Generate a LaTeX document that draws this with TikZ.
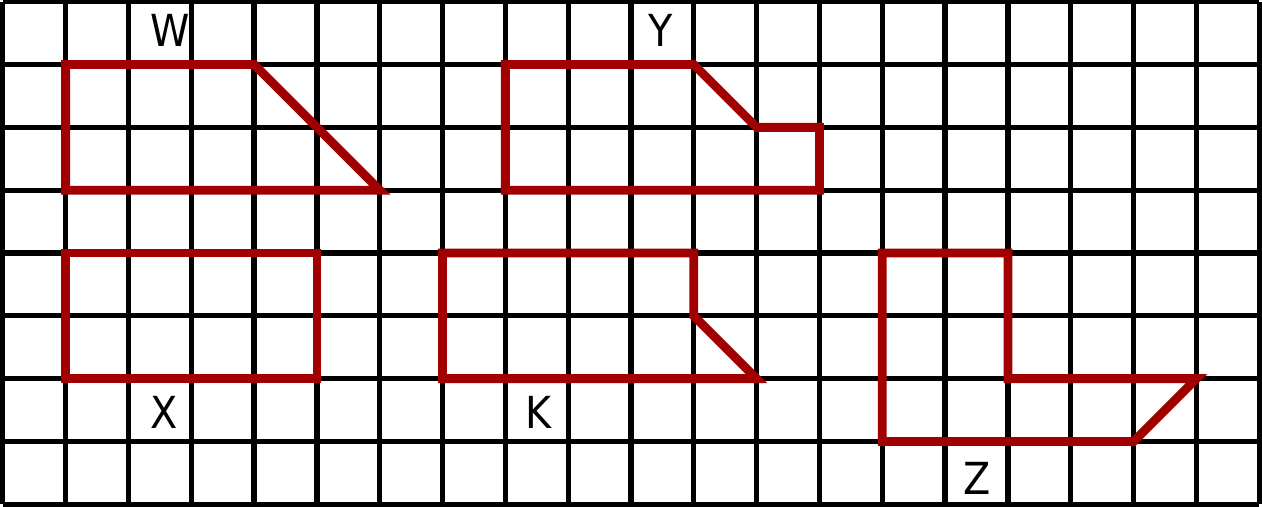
\documentclass[tikz,border=0pt]{standalone}
\usepackage{fontspec}
\setmainfont{DejaVu Sans Condensed}
\definecolor{darkred}{RGB}{160,0,0}
\begin{document}
\begin{tikzpicture}
    % Stili
    \tikzstyle{gridline}=[black, line width=2.4pt]
    \tikzstyle{outline}=[darkred, line width=4pt]
    \tikzstyle{letter}=[text=black, inner sep=0pt, font=\fontsize{20}{24}\selectfont]

    \useasboundingbox (-0.045,-0.028) rectangle (20.045,8.028);

    % Quadrettatura
    \draw[gridline] (0,0) grid (20,8);

    % Figure
    \draw[outline] (1,7) -- (4,7) -- (6,5) -- (1,5) -- cycle;
    \draw[outline] (8,7) -- (11,7) -- (12,6) -- (13,6) -- (13,5) -- (8,5) -- cycle;
    \draw[outline] (1,4) -- (5,4) -- (5,2) -- (1,2) -- cycle;
    \draw[outline] (7,4) -- (11,4) -- (11,3) -- (12,2) -- (7,2) -- cycle;
    \draw[outline] (14,4) -- (16,4) -- (16,2) -- (19,2) -- (18,1) -- (14,1) -- cycle;

    % Etichette
    \node[letter] (labW) at (2.67,7.55) {W};
    \node[letter] (labY) at (10.47,7.55) {Y};
    \node[letter] (labX) at (2.56,1.46) {X};
    \node[letter] (labK) at (8.53,1.46) {K};
    \node[letter] (labZ) at (15.51,0.42) {Z};
\end{tikzpicture}
\end{document}
